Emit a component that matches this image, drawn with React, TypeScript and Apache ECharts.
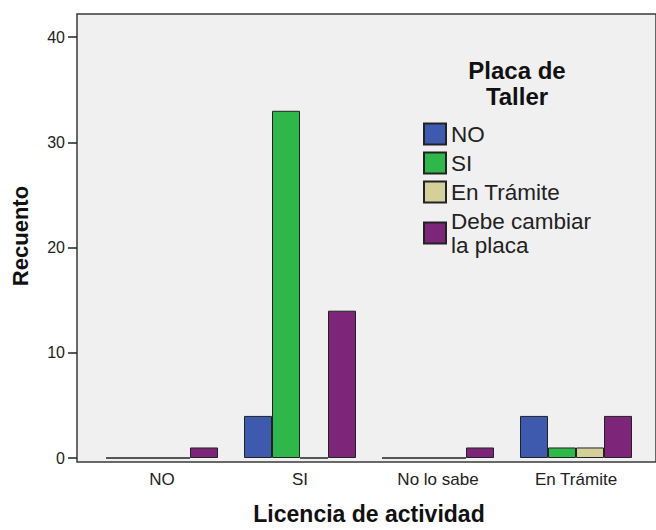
import React, { useEffect, useRef } from "react";
import * as echarts from "echarts";

const categories = ["NO", "SI", "No lo sabe", "En Trámite"];
const seriesNames = ["NO", "SI", "En Trámite", "Debe cambiar la placa"];
const valuesNO = [0, 4, 0, 4];
const valuesSI = [0, 33, 0, 1];
const valuesTramite = [0, 0, 0, 1];
const valuesDebe = [1, 14, 1, 4];
const yTicks = [0, 10, 20, 30, 40];
const colors = ["#3d5aae", "#2eb84a", "#d5d099", "#7d2579"];

const FONT = "'Liberation Sans', Arial, sans-serif";

export default function App() {
  const ref = useRef<HTMLDivElement>(null);
  useEffect(() => {
    if (!ref.current) return;
    const chart = echarts.init(ref.current, null, { renderer: "svg" });
    const allValues = [valuesNO, valuesSI, valuesTramite, valuesDebe];
    chart.setOption({
      animation: false,
      backgroundColor: "#ffffff",
      textStyle: { fontFamily: FONT },
      grid: [
        {
          left: 77,
          width: 585,
          top: 14,
          height: 448,
          show: true,
          backgroundColor: "#f0f0f0",
          borderColor: "#3a3a3a",
          borderWidth: 1.5,
          z: 0,
        },
        { left: 93, width: 552, top: 14, height: 448 },
      ],
      xAxis: [
        { gridIndex: 0, type: "value", show: false },
        {
          gridIndex: 1,
          type: "category",
          data: categories,
          axisLine: { show: false },
          axisTick: {
            alignWithLabel: true,
            length: 10,
            lineStyle: { color: "#222", width: 1.5 },
          },
          axisLabel: {
            margin: 13,
            fontSize: 17,
            color: "#222",
            fontFamily: FONT,
          },
          name: "Licencia de actividad",
          nameLocation: "middle",
          nameGap: 44,
          nameTextStyle: {
            fontSize: 23,
            fontWeight: "bold",
            color: "#111",
            fontFamily: FONT,
          },
        },
      ],
      yAxis: [
        { gridIndex: 0, type: "value", show: false },
        {
          gridIndex: 1,
          type: "value",
          min: 0,
          max: 42.2,
          interval: 10,
          offset: 16,
          splitLine: { show: false },
          axisLine: { show: false },
          axisTick: {
            show: true,
            length: 9,
            customValues: yTicks,
            lineStyle: { color: "#222", width: 1.5 },
          },
          axisLabel: {
            margin: 12,
            fontSize: 16,
            color: "#222",
            fontFamily: FONT,
            customValues: yTicks,
          },
          name: "Recuento",
          nameLocation: "middle",
          nameGap: 46,
          nameTextStyle: {
            fontSize: 22,
            fontWeight: "bold",
            color: "#111",
            fontFamily: FONT,
          },
        },
      ],
      legend: {
        orient: "vertical",
        left: 423,
        top: 122,
        padding: 0,
        itemWidth: 22,
        itemHeight: 21,
        itemGap: 5,
        icon: "rect",
        data: seriesNames,
        formatter: (n: string) =>
          n === "Debe cambiar la placa" ? "Debe cambiar\nla placa" : n,
        textStyle: {
          fontSize: 22.5,
          lineHeight: 24,
          color: "#222",
          fontFamily: FONT,
        },
      },
      graphic: [
        {
          type: "text",
          x: 517,
          y: 57,
          z: 10,
          style: {
            text: "Placa de\nTaller",
            textAlign: "center",
            textVerticalAlign: "top",
            font: `bold 24px ${FONT}`,
            lineHeight: 26,
            fill: "#111",
          },
        },
      ],
      series: seriesNames.map((name, i) => ({
        name,
        type: "bar",
        xAxisIndex: 1,
        yAxisIndex: 1,
        data: allValues[i],
        barWidth: 28,
        barGap: "0%",
        itemStyle: {
          color: colors[i],
          borderColor: "#222",
          borderWidth: 1,
        },
      })),
    });
    return () => chart.dispose();
  }, []);
  return (
    <div
      ref={ref}
      style={{ position: "fixed", left: 0, top: 0, width: 656, height: 530 }}
    />
  );
}
